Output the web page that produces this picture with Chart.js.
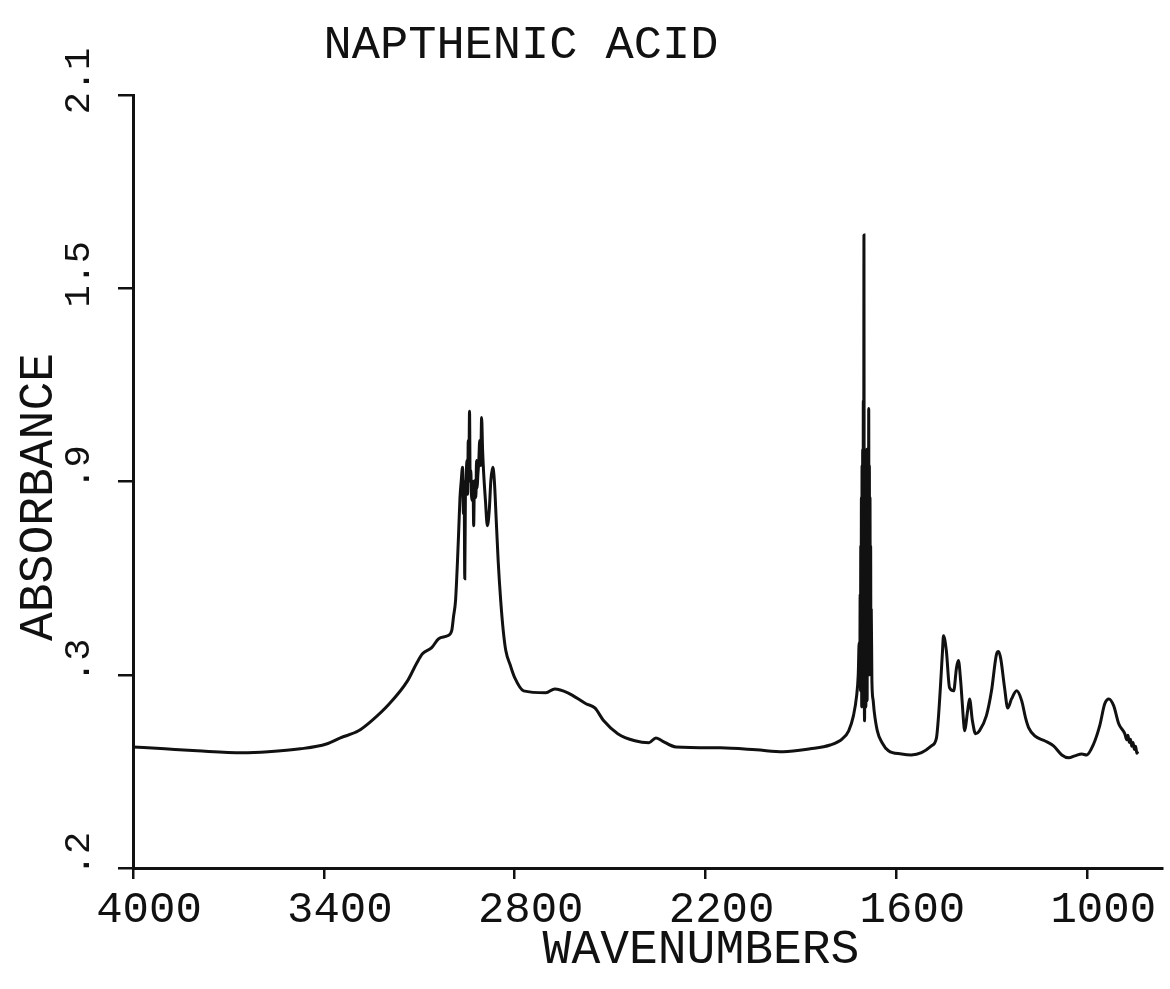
<!DOCTYPE html>
<html>
<head>
<meta charset="utf-8">
<script src="https://cdn.jsdelivr.net/npm/chart.js@4.4.1/dist/chart.umd.min.js"></script>
<style>
  html, body { margin: 0; padding: 0; background: #fff; }
  canvas { display: block; }
</style>
</head>
<body>
<canvas id="chart" width="1170" height="989"></canvas>
<script>
// wavenumbers (cm-1) from left to right
var wavenumbers = [
  4000, 3900, 3798, 3657, 3575, 3474, 3392, 3348, 3291, 3250, 3194, 3137, 3109, 3090,
  3061, 3039, 3011, 2998, 2992,
  2986, 2980, 2976, 2972, 2968, 2964, 2961, 2959, 2957, 2955, 2953, 2950, 2948, 2946,
  2944, 2942, 2940, 2938, 2936, 2934, 2931, 2929, 2927, 2925, 2922, 2920, 2918, 2916,
  2913, 2910, 2907, 2904, 2901, 2898, 2892, 2886, 2880, 2875, 2869, 2864, 2858, 2852, 2844,
  2836, 2828, 2814, 2800, 2772, 2702, 2674, 2633, 2576, 2548, 2520, 2476, 2422, 2378, 2356,
  2337, 2293, 2154, 2041, 1956, 1871, 1808,
  1770, 1750, 1735, 1725, 1720, 1717, 1715, 1714, 1713, 1712,
  1711, 1710, 1709, 1708, 1707, 1706, 1705, 1704, 1703, 1702,
  1701, 1700, 1699, 1698, 1697, 1696, 1695, 1694, 1693, 1692,
  1691, 1690, 1689, 1688, 1687, 1686, 1685, 1684, 1683, 1682,
  1681, 1680, 1679, 1677, 1673, 1670, 1660, 1645, 1625,
  1584, 1553, 1521, 1490, 1474, 1468, 1461, 1455, 1452, 1443, 1433, 1420, 1411, 1405,
  1398, 1389, 1386, 1376, 1370, 1361, 1351, 1339, 1317, 1301, 1285, 1279, 1272, 1260,
  1250, 1238, 1222, 1206, 1194, 1184, 1165, 1134, 1106, 1080, 1058, 1039, 1017, 1002,
  980, 961, 945, 932, 917, 901, 882, 876, 872, 868, 864, 860, 856, 852, 848, 844, 841
];

var absorbance = [
  0.076, 0.070, 0.064, 0.058, 0.061, 0.070, 0.085, 0.104, 0.126, 0.157, 0.210, 0.281, 0.334, 0.365,
  0.384, 0.412, 0.421, 0.437, 0.483,
  0.530, 0.650, 0.748, 0.850, 0.903, 0.944, 0.800, 0.900, 0.598, 0.850, 0.903, 0.965, 0.860, 1.027,
  0.950, 1.118, 0.900, 0.934, 0.860, 0.841, 0.900, 0.763, 0.880, 0.903, 0.850, 0.965, 0.880, 0.918,
  0.960, 1.027, 0.950, 1.099, 1.000, 0.934, 0.841, 0.763, 0.810, 0.903, 0.944, 0.903, 0.779, 0.654, 0.530,
  0.437, 0.375, 0.330, 0.291, 0.250, 0.244, 0.256, 0.244, 0.210, 0.197, 0.157, 0.117, 0.095, 0.089, 0.104,
  0.095, 0.076, 0.073, 0.067, 0.061, 0.070, 0.082,
  0.101, 0.126, 0.173, 0.235, 0.300, 0.400, 0.300, 0.550, 0.250, 0.700,
  0.300, 0.850, 0.200, 0.950, 0.350, 1.000, 0.250, 1.152, 0.400, 1.665,
  0.300, 0.157, 0.900, 0.250, 0.980, 0.200, 0.950, 0.300, 1.000, 0.220,
  0.950, 0.350, 1.000, 0.300, 1.127, 0.400, 0.950, 0.300, 0.850, 0.350,
  0.700, 0.300, 0.500, 0.280, 0.220, 0.188, 0.126, 0.089, 0.064,
  0.054, 0.051, 0.058, 0.079, 0.104, 0.166, 0.272, 0.375, 0.421, 0.375, 0.260, 0.250, 0.322, 0.344,
  0.281, 0.157, 0.126, 0.188, 0.225, 0.157, 0.117, 0.126, 0.173, 0.250, 0.365, 0.372, 0.350, 0.260,
  0.197, 0.225, 0.250, 0.219, 0.166, 0.135, 0.110, 0.095, 0.079, 0.051, 0.042, 0.048, 0.054, 0.051,
  0.085, 0.141, 0.210, 0.225, 0.204, 0.148, 0.117, 0.098, 0.112, 0.090, 0.100, 0.078, 0.090, 0.068,
  0.078, 0.056, 0.062
];

var xTicks = [4000, 3400, 2800, 2200, 1600, 1000];
var yTicks = [-0.3, 0.3, 0.9, 1.5, 2.1];
var yTickLabels = [".2", ".3", ".9", "1.5", "2.1"];

var FONT = "'Liberation Mono', 'DejaVu Sans Mono', monospace";

var points = wavenumbers.map(function (w, i) {
  return { x: w, y: absorbance[i] };
});

// plotter style labels, placed where the original plotter put them
var plotterText = {
  id: "plotterText",
  afterDraw: function (chart) {
    var c = chart.ctx;
    c.save();
    c.fillStyle = "#111";
    c.textAlign = "center";
    c.textBaseline = "middle";
    c.font = "47px " + FONT;
    c.fillText("NAPTHENIC ACID", 521, 46);
    c.font = "48px " + FONT;
    c.fillText("WAVENUMBERS", 701, 950);
    c.translate(39, 497);
    c.rotate(-Math.PI / 2);
    c.fillText("ABSORBANCE", 0, 0);
    c.restore();
  },
};

var ctx = document.getElementById("chart").getContext("2d");

var chart = new Chart(ctx, {
  type: "line",
  data: {
    datasets: [
      {
        label: "Napthenic acid",
        data: points,
        borderColor: "#111",
        borderWidth: 3,
        pointRadius: 0,
        cubicInterpolationMode: "monotone",
        fill: false,
      },
    ],
  },
  options: {
    responsive: false,
    animation: false,
    devicePixelRatio: 1,
    layout: { padding: { top: 95, right: 8, bottom: 0, left: 0 } },
    plugins: {
      legend: { display: false },
      tooltip: { enabled: false },
      title: { display: false },
    },
    scales: {
      x: {
        type: "linear",
        reverse: true,
        min: 765,
        max: 4000,
        afterBuildTicks: function (s) {
          s.ticks = xTicks.map(function (v) { return { value: v }; });
        },
        afterFit: function (s) { s.height = 121; },
        grid: { drawOnChartArea: false, tickLength: 11, color: "#111", lineWidth: 2.5 },
        border: { color: "#111", width: 3 },
        ticks: {
          color: "#111",
          font: { family: FONT, size: 44 },
          padding: 5,
          labelOffset: 16,
          maxRotation: 0,
          autoSkip: false,
          callback: function (v) { return String(v); },
        },
      },
      y: {
        min: -0.3,
        max: 2.1,
        afterBuildTicks: function (s) {
          s.ticks = yTicks.map(function (v) { return { value: v }; });
        },
        afterFit: function (s) { s.width = 133; },
        grid: { drawOnChartArea: false, tickLength: 15, color: "#111", lineWidth: 2.5 },
        border: { color: "#111", width: 3 },
        ticks: {
          color: "#111",
          font: { family: FONT, size: 37 },
          minRotation: 90,
          maxRotation: 90,
          crossAlign: "center",
          padding: 5,
          labelOffset: -14,
          autoSkip: false,
          callback: function (v, i) { return yTickLabels[i]; },
        },
      },
    },
  },
  plugins: [plotterText],
});
</script>
</body>
</html>
